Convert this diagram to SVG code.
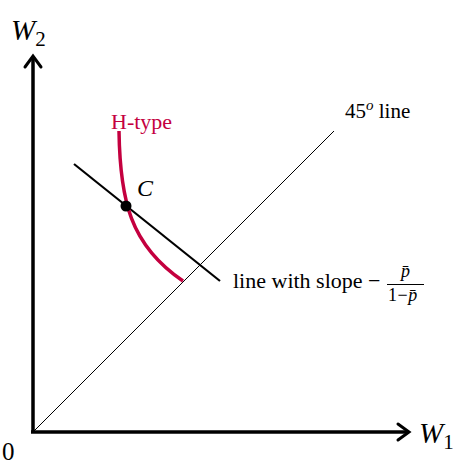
<svg xmlns="http://www.w3.org/2000/svg" width="456" height="464" viewBox="0 0 456 464" font-family="'Liberation Serif', 'Times New Roman', serif">
<style>
.axis{stroke:#000;stroke-width:3.5;fill:none}
.thin{stroke:#000;stroke-width:1;fill:none}
.head{stroke:#000;stroke-width:3;fill:none;stroke-linecap:round;stroke-linejoin:miter}
</style>
<rect width="456" height="464" fill="#fff"/>
<g id="connectors">
<path class="axis" d="M33 433 V57"/>
<path class="head" d="M25 67 L33 56 L41 67"/>
<path class="axis" d="M31 432 H407"/>
<path class="head" d="M398 424 L409 432 L398 440"/>
<path class="thin" d="M33 432 L334 131"/>
<path d="M74 164 L220 281" stroke="#000" stroke-width="2.2" fill="none"/>
<path d="M119 131 C120 200 130 245 183 281" stroke="#c4003f" stroke-width="3.5" fill="none"/>
</g>
<g id="point-C">
<circle cx="126" cy="206" r="5.5" fill="#000"/>
<text x="137" y="196" font-style="italic" font-size="24">C</text>
</g>
<g id="labels">
<text x="11" y="40" font-style="italic" font-size="29">W<tspan font-size="21" font-style="normal" dy="6">2</tspan></text>
<text x="419" y="443" font-style="italic" font-size="29">W<tspan font-size="21" font-style="normal" dy="6">1</tspan></text>
<text x="2" y="460" font-size="25">0</text>
<text x="111" y="129" font-size="22" fill="#c4003f">H-type</text>
<text x="345" y="118" font-size="21">45<tspan font-style="italic" font-size="15" dy="-8">o</tspan><tspan dy="8"> line</tspan></text>
<text x="233" y="288" font-size="22">line with slope −</text>
<line x1="387" y1="284.5" x2="424" y2="284.5" stroke="#000" stroke-width="1"/>
<text x="405.5" y="277" font-style="italic" font-size="18" text-anchor="middle">p̄</text>
<text x="388" y="301" font-size="18">1<tspan dx="0.5">−</tspan><tspan font-style="italic" dx="0.5">p̄</tspan></text>
</g>
</svg>
